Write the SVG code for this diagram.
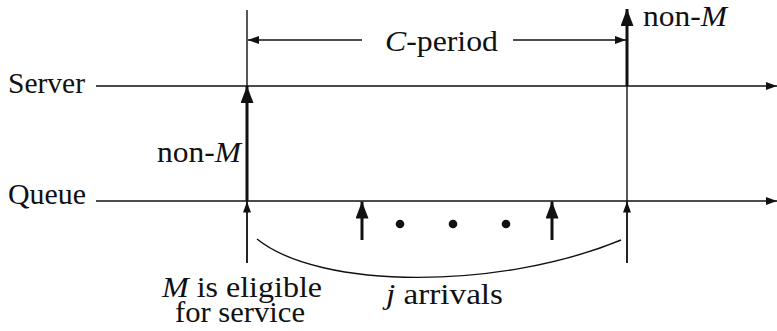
<svg xmlns="http://www.w3.org/2000/svg" width="777" height="331" viewBox="0 0 777 331">
<style>
text{font-family:"Liberation Serif","DejaVu Serif","Times New Roman",serif;font-size:30px;fill:#111}
.i{font-style:italic}
.thin{stroke:#111;stroke-width:1.4;fill:none}
.thick{stroke:#111;stroke-width:3;fill:none}
.ah{fill:#111}
</style>
<defs>
<marker id="big" markerWidth="17" markerHeight="13" refX="17" refY="6.5" viewBox="0 0 17 13" orient="auto" markerUnits="userSpaceOnUse">
<path d="M0,0 L17,6.5 L0,13 Z" class="ah"/>
</marker>
<marker id="small" markerWidth="11" markerHeight="8" refX="11" refY="4" viewBox="0 0 11 8" orient="auto" markerUnits="userSpaceOnUse">
<path d="M0,0 L11,4 L0,8 Z" class="ah"/>
</marker>
</defs>
<g id="labels">
<text x="8" y="93" textLength="77" lengthAdjust="spacingAndGlyphs">Server</text>
<text x="8" y="204" textLength="78" lengthAdjust="spacingAndGlyphs">Queue</text>
</g>
<g id="connectors">
<line class="thin" x1="96" y1="86" x2="777" y2="86" marker-end="url(#small)"/>
<line class="thin" x1="96" y1="201" x2="777" y2="201" marker-end="url(#small)"/>
<line class="thin" x1="247" y1="10" x2="247" y2="263"/>
<line class="thin" x1="627" y1="86" x2="627" y2="263"/>
<line class="thin" x1="247" y1="263" x2="247" y2="201.5" marker-end="url(#small)"/>
<line class="thin" x1="627" y1="263" x2="627" y2="201.5" marker-end="url(#small)"/>
<line class="thick" x1="247" y1="201" x2="247" y2="86" marker-end="url(#big)"/>
<line class="thick" x1="627" y1="86" x2="627" y2="9" marker-end="url(#big)"/>
<line class="thick" x1="362" y1="240" x2="362" y2="201.5" marker-end="url(#big)"/>
<line class="thick" x1="552" y1="240" x2="552" y2="201.5" marker-end="url(#big)"/>
<line class="thin" x1="362" y1="40" x2="248" y2="40" marker-end="url(#small)"/>
<line class="thin" x1="513" y1="40" x2="626" y2="40" marker-end="url(#small)"/>
<path class="thin" d="M257,239 C320,290 500,290 621,240"/>
</g>
<g id="dots">
<circle cx="400" cy="224" r="4.3" class="ah"/>
<circle cx="453" cy="224" r="4.3" class="ah"/>
<circle cx="506" cy="224" r="4.3" class="ah"/>
</g>
<g id="texts">
<text x="385" y="51" textLength="113" lengthAdjust="spacingAndGlyphs"><tspan class="i">C</tspan>-period</text>
<text x="643" y="26" textLength="84" lengthAdjust="spacingAndGlyphs">non-<tspan class="i">M</tspan></text>
<text x="157" y="162" textLength="84" lengthAdjust="spacingAndGlyphs">non-<tspan class="i">M</tspan></text>
<text x="162" y="297" textLength="160" lengthAdjust="spacingAndGlyphs"><tspan class="i">M</tspan> is eligible</text>
<text x="175" y="322" textLength="130" lengthAdjust="spacingAndGlyphs">for service</text>
<text x="386" y="304" textLength="117" lengthAdjust="spacingAndGlyphs"><tspan class="i">j</tspan> arrivals</text>
</g>
</svg>
